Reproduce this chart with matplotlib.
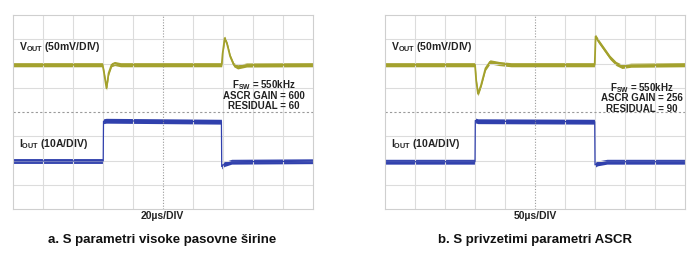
import numpy as np
import matplotlib
matplotlib.use('Agg')
import matplotlib.pyplot as plt

plt.rcParams['font.family'] = ['Liberation Sans', 'DejaVu Sans']
plt.rcParams['mathtext.default'] = 'regular'

# scope traces, in divisions (x: 0..10, y: 0..8 from bottom)
t_vout_a = [0, 3.0, 3.05, 3.13, 3.2, 3.3, 3.4, 3.6, 6.97, 7.0, 7.07, 7.15, 7.25, 7.37, 7.5, 7.8, 10]
v_vout_a = [5.95, 5.95, 5.6, 4.98, 5.6, 5.95, 6.0, 5.95, 5.95, 6.4, 7.05, 6.8, 6.3, 5.95, 5.86, 5.94, 5.95]
t_iout_a = [0, 3.02, 3.03, 3.12, 6.96, 6.97, 7.05, 7.3, 10]
i_iout_a = [1.98, 1.98, 3.62, 3.64, 3.6, 1.75, 1.85, 1.95, 1.97]

t_vout_b = [0, 3.0, 3.04, 3.1, 3.2, 3.35, 3.5, 3.8, 4.2, 6.99, 7.02, 7.1, 7.3, 7.5, 7.7, 7.9, 8.2, 10]
v_vout_b = [5.95, 5.95, 5.3, 4.75, 5.1, 5.8, 6.07, 6.0, 5.95, 5.95, 7.12, 6.95, 6.6, 6.25, 6.0, 5.88, 5.93, 5.95]
t_iout_b = [0, 3.0, 3.01, 3.1, 6.99, 7.0, 7.08, 7.4, 10]
i_iout_b = [1.95, 1.95, 3.65, 3.62, 3.6, 1.82, 1.88, 1.95, 1.95]

params_a = [r'F$_{SW}$ = 550kHz', 'ASCR GAIN = 600', 'RESIDUAL = 60']
params_b = [r'F$_{SW}$ = 550kHz', 'ASCR GAIN = 256', 'RESIDUAL = 90']
timebase = ['20µs/DIV', '50µs/DIV']
captions = ['a. S parametri visoke pasovne širine', 'b. S privzetimi parametri ASCR']

c_v = '#a3a12c'
c_i = '#3040ad'

fig = plt.figure(figsize=(7, 2.63), dpi=100)
ax_a = fig.add_axes([0.018, 0.2053, 0.4286, 0.7376])
ax_b = fig.add_axes([0.55, 0.2053, 0.4286, 0.7376])


def scope(ax, tv, vv, ti, ii, params, tb, cap, px, py):
    ax.set_xlim(0, 10)
    ax.set_ylim(0, 8)
    ax.set_xticks([])
    ax.set_yticks([])
    for s in ax.spines.values():
        s.set_color('#cfcfcf')
        s.set_linewidth(0.8)
    for k in range(1, 10):
        if k == 5:
            ax.axvline(k, color='#9a9a9a', lw=0.8, ls=(0, (1, 1.5)))
        else:
            ax.axvline(k, color='#dcdcdc', lw=0.8)
    for k in range(1, 8):
        if k == 4:
            ax.axhline(k, color='#9a9a9a', lw=0.8, ls=(0, (2, 2)))
        else:
            ax.axhline(k, color='#dcdcdc', lw=0.8)
    tv = np.array(tv); vv = np.array(vv)
    ti = np.array(ti); ii = np.array(ii)
    ax.fill_between(tv, vv - 0.085, vv + 0.085, color=c_v, lw=0)
    ax.plot(tv, vv, color=c_v, lw=1.3)
    ax.fill_between(ti, ii - 0.1, ii + 0.1, color=c_i, lw=0)
    ax.plot(ti, ii, color=c_i, lw=0.9)
    ax.text(0.2, 6.68, r'V$_{OUT}$ (50mV/DIV)', fontsize=7.5, fontweight='bold',
            va='center', ha='left', color='#222222')
    ax.text(0.2, 2.68, r'I$_{OUT}$ (10A/DIV)', fontsize=7.5, fontweight='bold',
            va='center', ha='left', color='#222222')
    for j, p in enumerate(params):
        ax.text(px, py - j * 0.43, p, fontsize=7, fontweight='bold',
                ha='center', va='center', color='#222222')
    ax.text(5, -0.3, tb, fontsize=7.5, fontweight='bold', ha='center', va='center',
            color='#222222')
    ax.text(5, -1.28, cap, fontsize=9.5, fontweight='bold', ha='center', va='center',
            color='#111111')


scope(ax_a, t_vout_a, v_vout_a, t_iout_a, i_iout_a, params_a, timebase[0], captions[0], 8.37, 5.1)
scope(ax_b, t_vout_b, v_vout_b, t_iout_b, i_iout_b, params_b, timebase[1], captions[1], 8.56, 5.0)

fig.savefig('out.png', dpi=100)
